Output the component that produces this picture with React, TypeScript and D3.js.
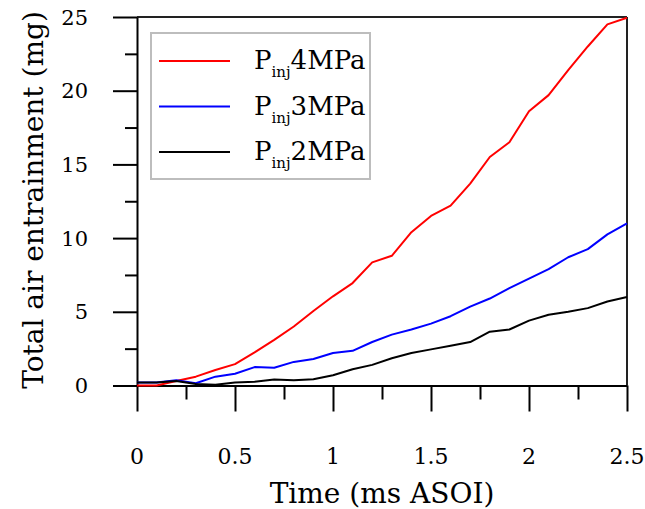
import * as d3 from "d3";
import { useEffect, useRef } from "react";

// time after start of injection (ms)
const times = [0, 0.1, 0.2, 0.3, 0.4, 0.5, 0.6, 0.7, 0.8, 0.9, 1.0, 1.1, 1.2, 1.3, 1.4, 1.5, 1.6, 1.7, 1.8, 1.9, 2.0, 2.1, 2.2, 2.3, 2.4, 2.5];

// total air entrainment (mg)
const p4 = [0, 0, 0.3, 0.6, 1.05, 1.45, 2.25, 3.1, 4.0, 5.05, 6.05, 6.95, 8.35, 8.8, 10.4, 11.5, 12.2, 13.7, 15.5, 16.5, 18.6, 19.7, 21.4, 23.0, 24.5, 24.95];
const p3 = [0.2, 0.2, 0.35, 0.15, 0.6, 0.8, 1.25, 1.2, 1.6, 1.8, 2.2, 2.35, 2.95, 3.45, 3.8, 4.2, 4.7, 5.35, 5.9, 6.6, 7.25, 7.9, 8.7, 9.25, 10.25, 11.0];
const p2 = [0.2, 0.2, 0.3, 0.1, 0.05, 0.2, 0.25, 0.4, 0.35, 0.42, 0.7, 1.1, 1.4, 1.85, 2.2, 2.45, 2.7, 2.95, 3.65, 3.8, 4.4, 4.8, 5.0, 5.25, 5.7, 6.0];

const legendLabels = ["4MPa", "3MPa", "2MPa"];
const colors = ["#ff0000", "#0000ff", "#000000"];

const xTicks = [0, 0.5, 1, 1.5, 2, 2.5];
const xMinor = [0.25, 0.75, 1.25, 1.75, 2.25];
const yTicks = [0, 5, 10, 15, 20, 25];
const yMinor = [2.5, 7.5, 12.5, 17.5, 22.5];

const FONT = "'DejaVu Serif', serif";

const App = () => {
  const ref = useRef<SVGSVGElement>(null);

  useEffect(() => {
    const svg = d3.select(ref.current);
    svg.selectAll("*").remove();

    const x = d3.scaleLinear().domain([0, 2.5]).range([137, 627]);
    const y = d3.scaleLinear().domain([0, 25]).range([385.5, 17]);

    const series = [p4, p3, p2];

    // frame (top + right)
    svg.append("line")
      .attr("x1", x(0)).attr("x2", x(2.5)).attr("y1", y(25)).attr("y2", y(25))
      .attr("stroke", "#222").attr("stroke-width", 2);
    svg.append("line")
      .attr("x1", x(2.5)).attr("x2", x(2.5)).attr("y1", y(25)).attr("y2", y(0))
      .attr("stroke", "#222").attr("stroke-width", 2);

    // Y axis
    const yAxis = svg.append("g").attr("transform", `translate(${x(0)},0)`);
    yAxis.call(d3.axisLeft(y).tickValues(yTicks).tickSize(24).tickSizeOuter(0).tickFormat(() => ""));
    yAxis.append("g")
      .call(d3.axisLeft(y).tickValues(yMinor).tickSize(12).tickSizeOuter(0).tickFormat(() => ""))
      .select(".domain").remove();
    yAxis.selectAll("line, path").attr("stroke", "#000").attr("stroke-width", 2);

    svg.append("g")
      .selectAll("text")
      .data(yTicks)
      .join("text")
      .attr("x", 88)
      .attr("y", (d) => y(d))
      .attr("dy", "0.36em")
      .attr("text-anchor", "end")
      .style("font-family", FONT)
      .style("font-size", "21px")
      .text((d) => d);

    // X axis
    const xAxis = svg.append("g").attr("transform", `translate(0,${y(0)})`);
    xAxis.call(d3.axisBottom(x).tickValues(xTicks).tickSize(26).tickSizeOuter(0).tickFormat(() => ""));
    xAxis.append("g")
      .call(d3.axisBottom(x).tickValues(xMinor).tickSize(14).tickSizeOuter(0).tickFormat(() => ""))
      .select(".domain").remove();
    xAxis.selectAll("line, path").attr("stroke", "#000").attr("stroke-width", 2);

    svg.append("g")
      .selectAll("text")
      .data(xTicks)
      .join("text")
      .attr("x", (d) => x(d))
      .attr("y", 464)
      .attr("text-anchor", "middle")
      .style("font-family", FONT)
      .style("font-size", "22px")
      .text((d) => d);

    // axis titles
    svg.append("text")
      .attr("x", 382)
      .attr("y", 503)
      .attr("text-anchor", "middle")
      .style("font-family", FONT)
      .style("font-size", "28px")
      .text("Time (ms ASOI)");

    svg.append("text")
      .attr("transform", `translate(43,200) rotate(-90)`)
      .attr("text-anchor", "middle")
      .style("font-family", FONT)
      .style("font-size", "28px")
      .text("Total air entrainment (mg)");

    // lines
    const line = d3.line<number>()
      .x((_, i) => x(times[i]))
      .y((d) => y(d));

    series.forEach((values, i) => {
      svg.append("path")
        .datum(values)
        .attr("fill", "none")
        .attr("stroke", colors[i])
        .attr("stroke-width", 2)
        .attr("stroke-linejoin", "round")
        .attr("d", line);
    });

    // legend
    const legend = svg.append("g");
    legend.append("rect")
      .attr("x", 151).attr("y", 33).attr("width", 219).attr("height", 146)
      .attr("fill", "#fff").attr("stroke", "#bdbdbd").attr("stroke-width", 2);

    legendLabels.forEach((label, i) => {
      const cy = 61 + i * 45.5;
      legend.append("line")
        .attr("x1", 159).attr("x2", 230).attr("y1", cy).attr("y2", cy)
        .attr("stroke", colors[i]).attr("stroke-width", 2);
      const t = legend.append("text")
        .attr("x", 254)
        .attr("y", cy + 8)
        .style("font-family", FONT)
        .style("font-size", "26px");
      t.append("tspan").text("P");
      t.append("tspan").attr("dy", 8).style("font-size", "15px").text("inj");
      t.append("tspan").attr("dy", -8).text(label);
    });
  }, []);

  return (
    <svg
      ref={ref}
      width={645}
      height={509}
      style={{ position: "absolute", left: 0, top: 0, background: "#fff" }}
    />
  );
};

export default App;
